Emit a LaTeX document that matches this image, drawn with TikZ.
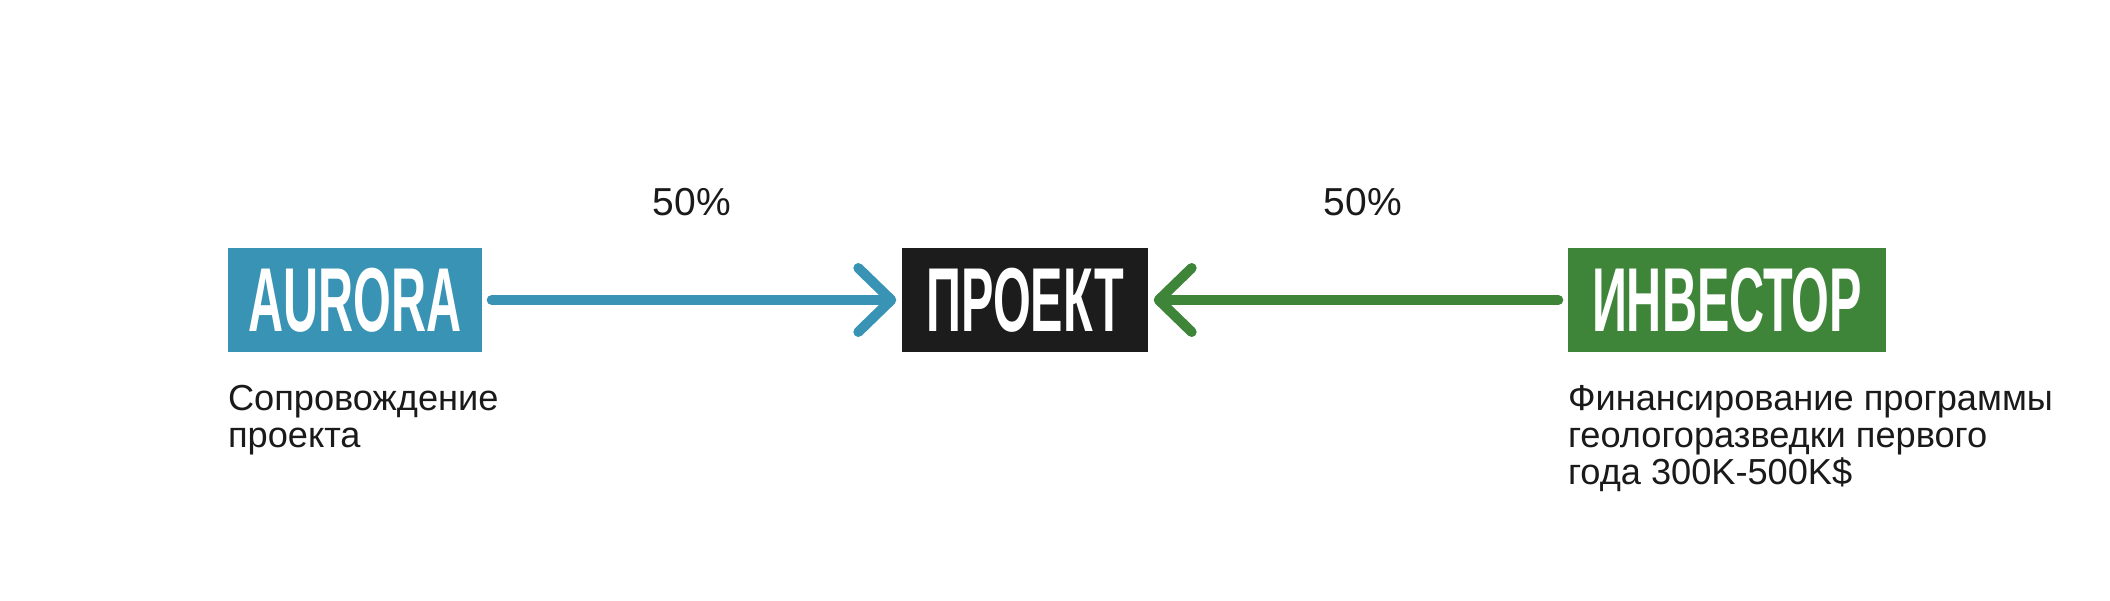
\documentclass[tikz,border=0pt]{standalone}
\usepackage{fontspec}
\usepackage{graphicx}
\setmainfont{Liberation Sans}
\usetikzlibrary{arrows.meta, positioning}

\definecolor{auroraBlue}{HTML}{3893B5}
\definecolor{investGreen}{HTML}{3E853A}
\definecolor{projBlack}{HTML}{1C1C1C}
\definecolor{inkGray}{HTML}{1A1A1A}

\newcommand{\headtext}[1]{\scalebox{0.535}[1]{#1}}

\tikzset{
  headbox/.style={fill=#1, text=white, minimum height=1.04cm, inner sep=0pt,
    font=\fontsize{0.908cm}{1cm}\selectfont\bfseries},
  link/.style={draw=#1, line width=1mm, line cap=round, shorten <=0.9mm, shorten >=0.5mm,
    -{Straight Barb[length=3.3mm, width=6.4mm, line cap=round, line join=round]}},
  pct/.style={text=inkGray, inner sep=0pt, font=\fontsize{0.39cm}{0.45cm}\selectfont},
  desc/.style={text=inkGray, inner sep=0pt, align=left, font=\fontsize{0.362cm}{0.372cm}\selectfont}
}

\begin{document}
\begin{tikzpicture}
\useasboundingbox (0,0) rectangle (21.1,6);

% the three parties
\node[headbox=auroraBlue, minimum width=2.54cm] (aurora) at (3.55,3) {\headtext{AURORA}};
\node[headbox=projBlack, minimum width=2.46cm] (proekt) at (10.25,3) {\headtext{ПРОЕКТ}};
\node[headbox=investGreen, minimum width=3.18cm] (investor) at (17.27,3) {\headtext{ИНВЕСТОР}};

% shares
\draw[link=auroraBlue] (aurora) -- (proekt) node[pct, midway, above=7.9mm] (shareA) {50\%};
\draw[link=investGreen] (investor) -- (proekt) node[pct, midway, above=7.9mm, xshift=0.5mm] (shareI) {50\%};

% what each side brings
\node[desc, below=3.2mm of aurora.south west, anchor=north west] (auroraDesc) {Сопровождение\\проекта};
\node[desc, below=3.2mm of investor.south west, anchor=north west] (investorDesc) {Финансирование программы\\геологоразведки первого\\года 300K-500K\$};

\end{tikzpicture}
\end{document}
